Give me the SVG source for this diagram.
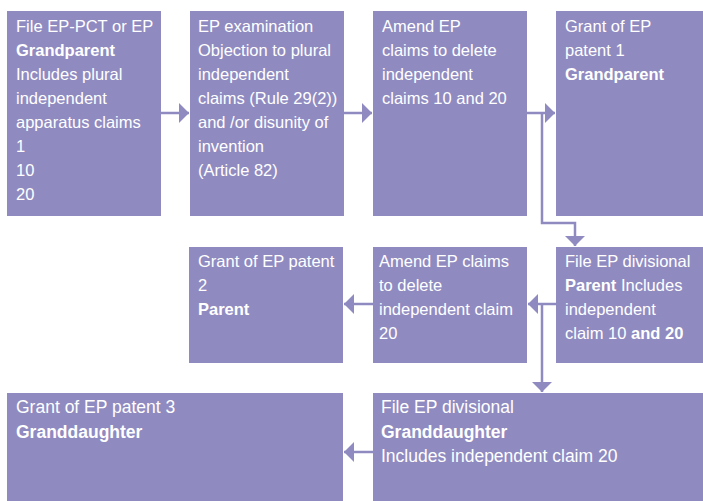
<svg xmlns="http://www.w3.org/2000/svg" width="703" height="501" viewBox="0 0 703 501">
<style>
.box{fill:#8F8BC1;}
.t{font-family:"Liberation Sans",Arial,sans-serif;font-size:16.5px;fill:#FFFFFF;}
.t3{font-family:"Liberation Sans",Arial,sans-serif;font-size:17.5px;fill:#FFFFFF;}
.b{font-weight:bold;}
.c{fill:none;stroke:#8F8BC1;stroke-width:2.5;}
</style>
<defs>
<marker id="ah" markerUnits="userSpaceOnUse" markerWidth="12" markerHeight="22" refX="10" refY="10" orient="auto" viewBox="0 0 12 22">
<path d="M0,0 L10,10 L0,20 Z" fill="#8F8BC1"/>
</marker>
</defs>
<rect width="703" height="501" fill="#FFFFFF"/>
<g id="connectors">
<path class="c" d="M161,113 H189" marker-end="url(#ah)"/>
<path class="c" d="M344,113 H372" marker-end="url(#ah)"/>
<path class="c" d="M527,113 H555" marker-end="url(#ah)"/>
<path class="c" d="M542,113 V223 H575 V246" marker-end="url(#ah)"/>
<path class="c" d="M556,304 H528" marker-end="url(#ah)"/>
<path class="c" d="M542,304 V392" marker-end="url(#ah)"/>
<path class="c" d="M373,304 H344" marker-end="url(#ah)"/>
<path class="c" d="M373,452 H344" marker-end="url(#ah)"/>
</g>
<g id="n1">
<rect class="box" x="7" y="11" width="154" height="205"/>
<text class="t" x="16" y="32">File EP-PCT or EP</text>
<text class="t b" x="16" y="56">Grandparent</text>
<text class="t" x="16" y="80">Includes plural</text>
<text class="t" x="16" y="104">independent</text>
<text class="t" x="16" y="128">apparatus claims</text>
<text class="t" x="16" y="152">1</text>
<text class="t" x="16" y="176">10</text>
<text class="t" x="16" y="200">20</text>
</g>
<g id="n2">
<rect class="box" x="190" y="11" width="154" height="205"/>
<text class="t" x="198" y="32">EP examination</text>
<text class="t" x="198" y="56">Objection to plural</text>
<text class="t" x="198" y="80">independent</text>
<text class="t" x="198" y="104">claims (Rule 29(2))</text>
<text class="t" x="198" y="128">and /or disunity of</text>
<text class="t" x="198" y="152">invention</text>
<text class="t" x="198" y="176">(Article 82)</text>
</g>
<g id="n3">
<rect class="box" x="373" y="11" width="154" height="205"/>
<text class="t" x="382" y="32">Amend EP</text>
<text class="t" x="382" y="56">claims to delete</text>
<text class="t" x="382" y="80">independent</text>
<text class="t" x="382" y="104">claims 10 and 20</text>
</g>
<g id="n4">
<rect class="box" x="556" y="11" width="147" height="205"/>
<text class="t" x="565" y="32">Grant of EP</text>
<text class="t" x="565" y="56">patent 1</text>
<text class="t b" x="565" y="80">Grandparent</text>
</g>
<g id="n5">
<rect class="box" x="189" y="247" width="154" height="116"/>
<text class="t" x="198" y="267">Grant of EP patent</text>
<text class="t" x="198" y="291">2</text>
<text class="t b" x="198" y="315">Parent</text>
</g>
<g id="n6">
<rect class="box" x="373" y="247" width="154" height="116"/>
<text class="t" x="379" y="267">Amend EP claims</text>
<text class="t" x="379" y="291">to delete</text>
<text class="t" x="379" y="315">independent claim</text>
<text class="t" x="379" y="339">20</text>
</g>
<g id="n7">
<rect class="box" x="556" y="247" width="147" height="116"/>
<text class="t" x="565" y="267">File EP divisional</text>
<text class="t" x="565" y="291"><tspan class="b">Parent</tspan> Includes</text>
<text class="t" x="565" y="315">independent</text>
<text class="t" x="565" y="339">claim 10 <tspan class="b">and 20</tspan></text>
</g>
<g id="n8">
<rect class="box" x="7" y="393" width="336" height="108"/>
<text class="t3" x="16" y="413">Grant of EP patent 3</text>
<text class="t3 b" x="16" y="438">Granddaughter</text>
</g>
<g id="n9">
<rect class="box" x="373" y="393" width="330" height="108"/>
<text class="t3" x="381" y="413">File EP divisional</text>
<text class="t3 b" x="381" y="438">Granddaughter</text>
<text class="t3" x="381" y="462">Includes independent claim 20</text>
</g>
</svg>
